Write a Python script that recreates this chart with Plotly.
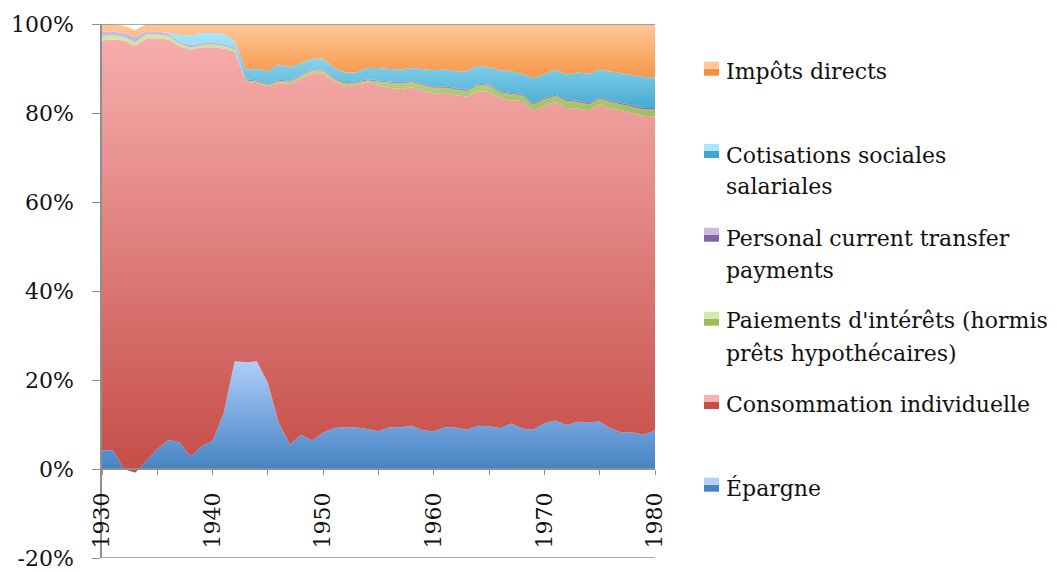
import plotly.graph_objects as go

years = list(range(1930, 1981))

epargne = [4.2, 4.2, 0.0, -0.8, 1.8, 4.5, 6.5, 6.0, 2.8, 5.1, 6.3, 12.6, 24.2, 24.0, 24.2,
           19.3, 10.3, 5.5, 7.7, 6.4, 8.2, 9.2, 9.4, 9.3, 9.0, 8.5, 9.4, 9.4, 9.7, 8.7,
           8.5, 9.4, 9.3, 8.8, 9.7, 9.6, 9.2, 10.2, 9.1, 8.8, 10.3, 10.9, 9.9, 10.6, 10.5,
           10.7, 9.1, 8.2, 8.2, 7.7, 8.7]
consommation = [92.1, 92.3, 96.3, 95.8, 95.0, 92.3, 90.0, 89.0, 91.4, 89.6, 88.5, 81.9, 69.6,
                63.0, 62.5, 66.7, 76.4, 81.1, 80.0, 82.6, 80.7, 77.9, 76.6, 77.0, 77.9, 77.7,
                76.2, 76.0, 76.1, 76.3, 75.9, 75.1, 74.7, 74.9, 75.2, 75.1, 74.1, 72.6, 73.6,
                71.8, 71.4, 71.6, 71.2, 70.4, 70.1, 71.2, 72.0, 72.4, 71.8, 71.7, 70.5]
interets = [1.0, 0.9, 0.8, 0.9, 0.8, 0.8, 0.8, 0.6, 0.6, 0.6, 0.6, 0.6, 0.5, 0.3, 0.3, 0.3,
            0.5, 0.4, 0.6, 0.6, 0.6, 0.5, 0.6, 0.5, 0.4, 0.8, 1.2, 1.2, 1.1, 1.3, 1.3, 1.2,
            1.3, 1.2, 1.4, 1.4, 1.3, 1.4, 1.3, 1.3, 1.4, 1.3, 1.6, 1.5, 1.3, 1.3, 1.4, 1.3,
            1.4, 1.4, 1.6]
transferts = [0.9, 0.9, 0.9, 1.1, 0.8, 0.7, 0.6, 0.4, 0.4, 0.4, 0.4, 0.4, 0.4, 0.3, 0.3, 0.3,
              0.3, 0.3, 0.3, 0.3, 0.3, 0.3, 0.3, 0.3, 0.3, 0.3, 0.3, 0.3, 0.3, 0.3, 0.3, 0.3,
              0.3, 0.3, 0.3, 0.3, 0.3, 0.3, 0.3, 0.3, 0.3, 0.3, 0.3, 0.3, 0.3, 0.3, 0.3, 0.3,
              0.3, 0.3, 0.3]
cotisations = [0.0, 0.0, 0.0, 0.0, 0.0, 0.0, 0.2, 1.6, 2.2, 2.3, 2.2, 2.3, 1.4, 2.2, 2.6, 2.8,
               3.4, 3.0, 2.6, 2.3, 2.4, 2.2, 2.2, 2.0, 2.5, 2.8, 2.8, 2.9, 2.9, 3.2, 3.6, 3.8,
               3.8, 4.2, 4.0, 3.9, 4.7, 4.9, 4.5, 5.6, 5.4, 5.6, 5.6, 6.3, 6.6, 6.3, 6.5, 6.7,
               6.9, 7.0, 6.9]
impots = [1.8, 1.7, 1.6, 1.6, 1.6, 1.7, 1.9, 2.4, 2.6, 2.0, 2.0, 2.2, 3.9, 10.2, 10.1, 10.6,
          9.1, 9.7, 8.8, 7.8, 7.8, 9.9, 10.9, 10.9, 9.9, 9.9, 10.1, 10.2, 9.9, 10.2, 10.4,
          10.2, 10.6, 10.6, 9.4, 9.7, 10.4, 10.6, 11.2, 12.2, 11.2, 10.3, 11.4, 10.9, 11.2,
          10.2, 10.7, 11.1, 11.4, 11.9, 12.0]

y_ticks = [-20, 0, 20, 40, 60, 80, 100]
y_labels = ["-20%", "0%", "20%", "40%", "60%", "80%", "100%"]

# name, values, dark colour, light colour, gradient range
series = [
    ("Épargne", epargne, "#4683c4", "#b3d0f8", 0, 25),
    ("Consommation individuelle", consommation, "#c64d48", "#f8b1af", 0, 100),
    ("Paiements d'intérêts (hormis<br>prêts hypothécaires)", interets, "#9bbb59", "#d4e9aa", 78, 98),
    ("Personal current transfer<br>payments", transferts, "#8064a2", "#c9bce3", 78, 98),
    ("Cotisations sociales<br>salariales", cotisations, "#40a8cc", "#aae7fc", 80, 98),
    ("Impôts directs", impots, "#f58f3c", "#fec899", 86, 100),
]

W, H = 1057, 572
L, R, T, B = 102, 655, 24, 558
FONT = "DejaVu Serif"
GREY = "#8f8f8f"


def pxx(x):
    return (x - L) / (R - L)


def pxy(y):
    return (B - y) / (B - T)


fig = go.Figure()
for name, vals, dark, light, lo, hi in series:
    fig.add_trace(
        go.Scatter(
            x=years,
            y=vals,
            name=name,
            mode="lines",
            stackgroup="one",
            line={"width": 0},
            fillgradient={
                "type": "vertical",
                "colorscale": [[0, dark], [1, light]],
                "start": lo,
                "stop": hi,
            },
            showlegend=False,
        )
    )

# hand-placed legend, top entry first
legend_rows = [
    (5, 61.7, ["Impôts directs"], [78]),
    (4, 144, ["Cotisations sociales", "salariales"], [162, 194]),
    (3, 227.7, ["Personal current transfer", "payments"], [245, 277]),
    (2, 311.7, ["Paiements d'intérêts (hormis", "prêts hypothécaires)"], [327.5, 360]),
    (1, 395, ["Consommation individuelle"], [411]),
    (0, 477.7, ["Épargne"], [494.5]),
]
shapes = []
annotations = []
for idx, top, lines, baselines in legend_rows:
    _, _, dark, light, _, _ = series[idx]
    shapes.append(dict(type="rect", xref="paper", yref="paper",
                       x0=pxx(704), x1=pxx(719), y0=pxy(top + 14), y1=pxy(top + 7),
                       fillcolor=dark, line_width=0))
    shapes.append(dict(type="rect", xref="paper", yref="paper",
                       x0=pxx(704), x1=pxx(719), y0=pxy(top + 7), y1=pxy(top),
                       fillcolor=light, line_width=0))
    for text, base in zip(lines, baselines):
        annotations.append(dict(text=text, xref="paper", yref="paper",
                                x=pxx(724), y=pxy(base - 7), xanchor="left", yanchor="middle",
                                showarrow=False, font={"family": FONT, "size": 22, "color": "#111"}))

shapes.append(dict(type="line", xref="paper", yref="y", x0=0, x1=1, y0=100, y1=100,
                   line={"color": GREY, "width": 1.5}))
shapes.append(dict(type="line", xref="paper", yref="y", x0=0, x1=1, y0=-20, y1=-20,
                   line={"color": GREY, "width": 1.5}))

fig.update_layout(
    width=W,
    height=H,
    margin={"l": L, "r": W - R, "t": T, "b": H - B},
    paper_bgcolor="white",
    plot_bgcolor="white",
    shapes=shapes,
    annotations=annotations,
    xaxis={
        "range": [1930, 1980],
        "anchor": "free",
        "position": 20 / 120,
        "automargin": False,
        "tick0": 1930,
        "dtick": 10,
        "tickangle": -90,
        "ticks": "outside",
        "ticklen": 5,
        "tickcolor": GREY,
        "showline": True,
        "linecolor": GREY,
        "linewidth": 1.5,
        "showgrid": False,
        "zeroline": False,
        "ticklabelstandoff": 9,
        "tickfont": {"family": FONT, "size": 22, "color": "#111"},
        "minor": {"dtick": 5, "ticks": "outside", "ticklen": 5, "tickcolor": GREY, "showgrid": False},
    },
    yaxis={
        "range": [-20, 100],
        "tickmode": "array",
        "tickvals": y_ticks,
        "ticktext": y_labels,
        "automargin": False,
        "ticks": "outside",
        "ticklen": 8,
        "tickcolor": GREY,
        "showline": True,
        "linecolor": GREY,
        "linewidth": 1.5,
        "showgrid": False,
        "zeroline": False,
        "ticklabelstandoff": 14,
        "tickfont": {"family": FONT, "size": 22, "color": "#111"},
    },
)

# the page's default body margin would push the figure 8px down and right
fig.write_html(
    "out.html",
    config={"displayModeBar": False},
    post_script="document.body.style.margin = '0';",
)
